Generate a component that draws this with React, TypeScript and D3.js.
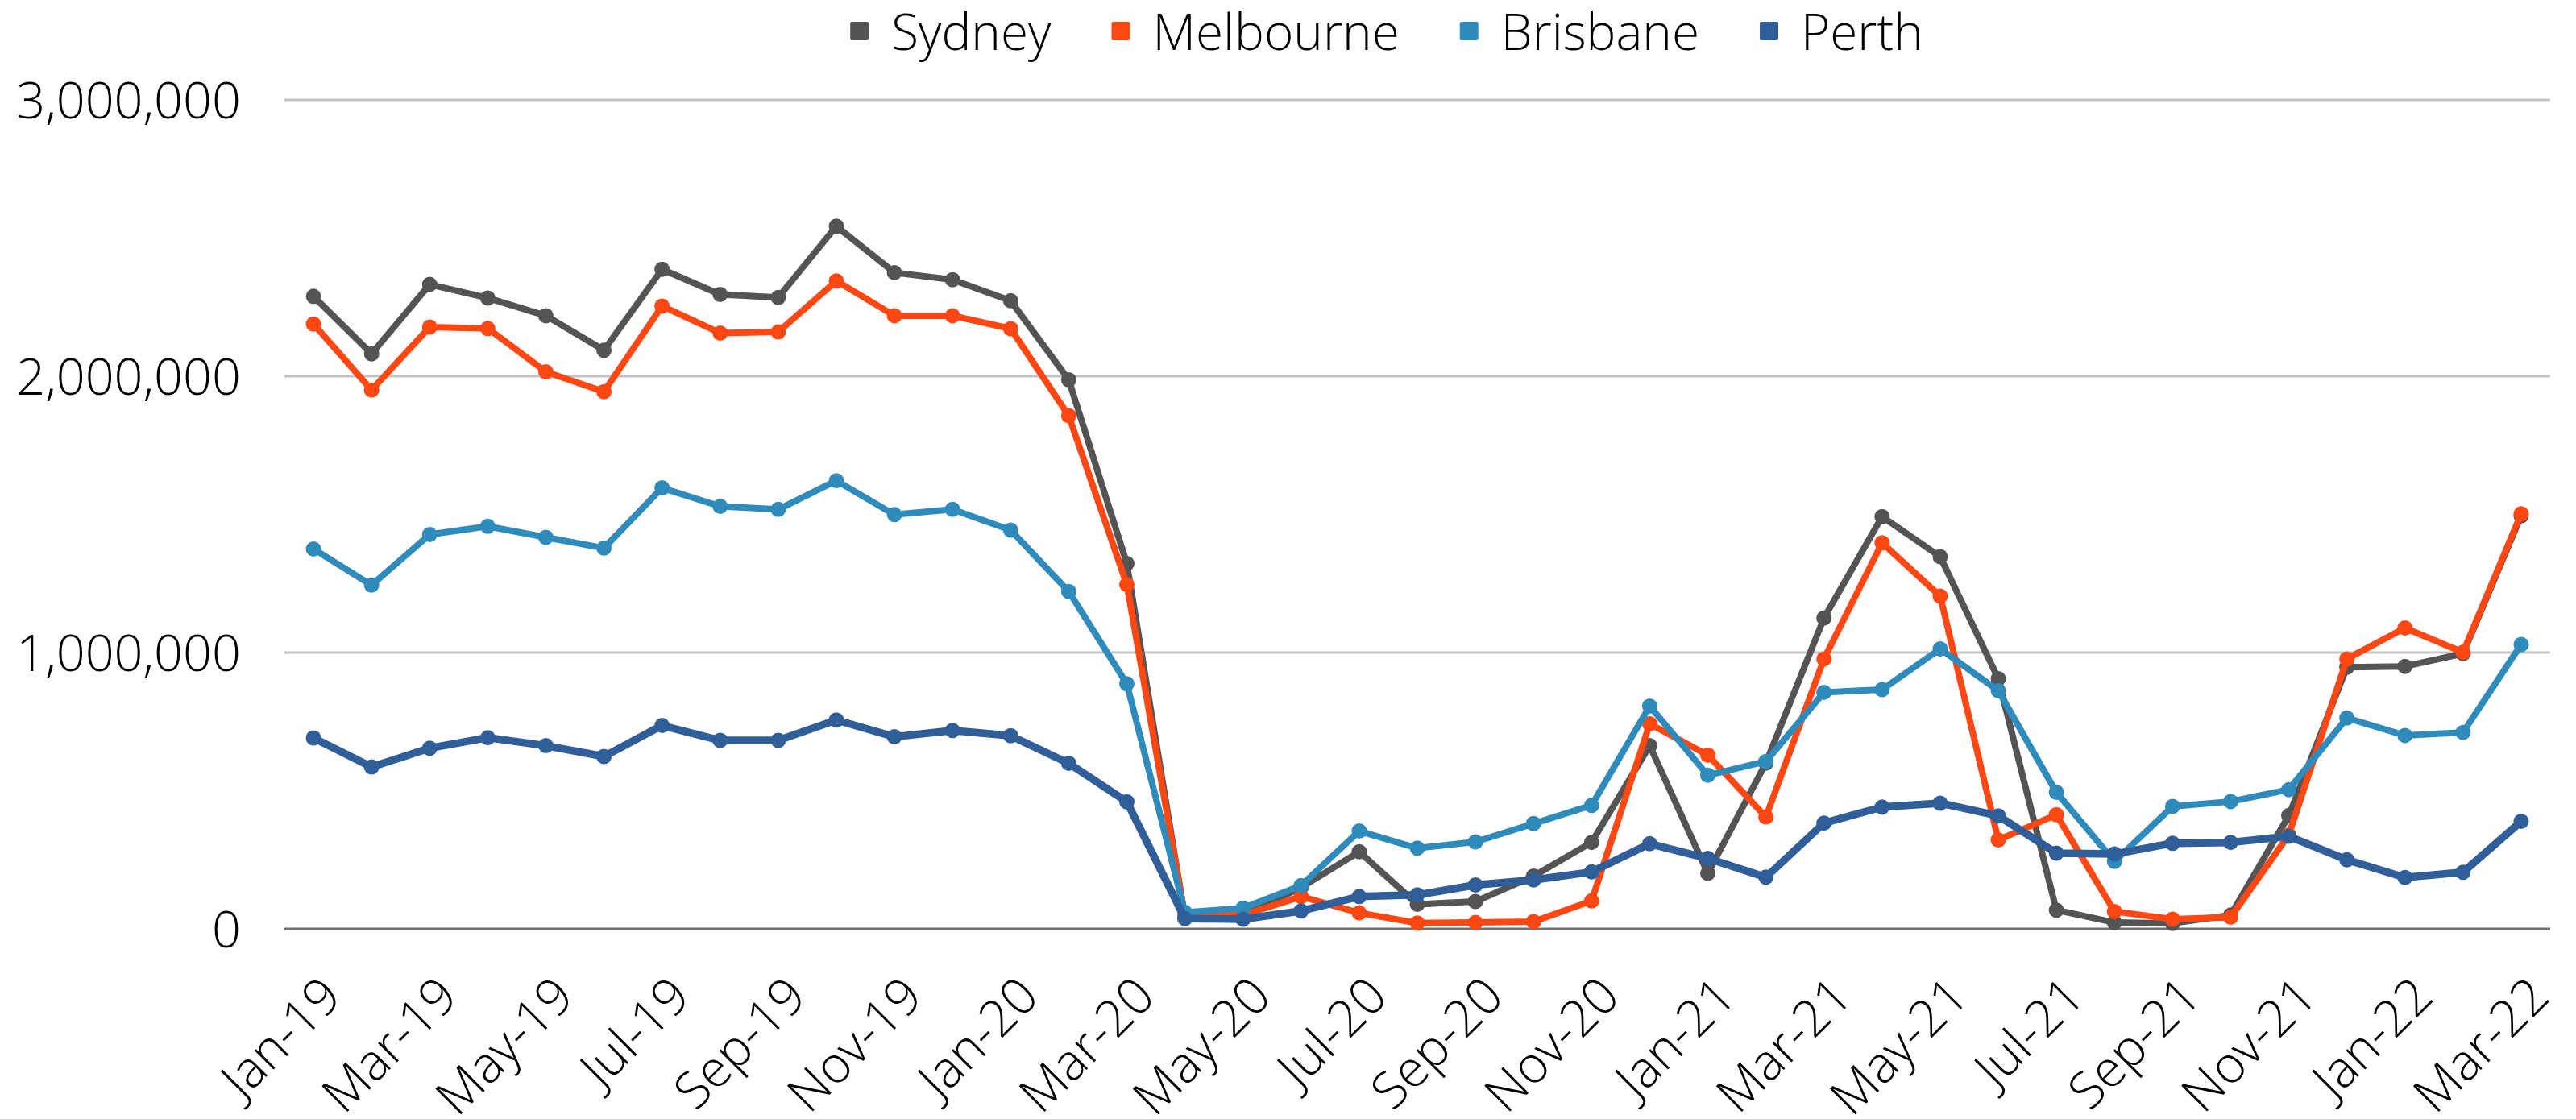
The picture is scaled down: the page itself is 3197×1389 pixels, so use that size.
import * as d3 from 'd3';
import { useEffect, useRef } from 'react';

const months = [
  'Jan-19', 'Feb-19', 'Mar-19', 'Apr-19', 'May-19', 'Jun-19', 'Jul-19', 'Aug-19', 'Sep-19', 'Oct-19', 'Nov-19', 'Dec-19',
  'Jan-20', 'Feb-20', 'Mar-20', 'Apr-20', 'May-20', 'Jun-20', 'Jul-20', 'Aug-20', 'Sep-20', 'Oct-20', 'Nov-20', 'Dec-20',
  'Jan-21', 'Feb-21', 'Mar-21', 'Apr-21', 'May-21', 'Jun-21', 'Jul-21', 'Aug-21', 'Sep-21', 'Oct-21', 'Nov-21', 'Dec-21',
  'Jan-22', 'Feb-22', 'Mar-22',
];

// values in thousands
const sydney = [
  2289, 2081, 2332, 2283, 2219, 2094, 2387, 2296, 2285, 2543, 2375, 2349,
  2273, 1987, 1322, 40, 50, 150, 279, 89, 99, 191, 313, 663,
  201, 600, 1125, 1492, 1347, 905, 68, 23, 20, 50, 410, 947,
  950, 996, 1495,
];
const melbourne = [
  2189, 1950, 2178, 2173, 2016, 1944, 2254, 2156, 2160, 2345, 2219, 2219,
  2172, 1857, 1246, 46, 50, 117, 58, 21, 23, 26, 101, 742,
  629, 405, 977, 1397, 1204, 322, 413, 63, 35, 42, 340, 977,
  1089, 1001, 1502,
];
const brisbane = [
  1375, 1244, 1427, 1457, 1417, 1378, 1596, 1529, 1518, 1622, 1499, 1518,
  1443, 1221, 887, 60, 75, 157, 354, 292, 315, 381, 447, 806,
  556, 606, 856, 866, 1013, 862, 494, 244, 443, 461, 504, 763,
  700, 711, 1029,
];
const perth = [
  691, 586, 654, 692, 663, 624, 736, 682, 682, 756, 695, 718,
  699, 599, 460, 37, 35, 65, 117, 123, 159, 177, 206, 308,
  255, 187, 383, 441, 455, 409, 274, 271, 310, 313, 335, 250,
  186, 205, 389,
];

const seriesNames = ['Sydney', 'Melbourne', 'Brisbane', 'Perth'];
const seriesValues = [sydney, melbourne, brisbane, perth];
const colors = ['#545457', '#ff4713', '#2e8bbb', '#2f5e99'];
const yTicks = [0, 1000000, 2000000, 3000000];

const W = 3197;
const H = 1389;

export default function App() {
  const svgRef = useRef<SVGSVGElement>(null);

  useEffect(() => {
    if (!svgRef.current) return;
    const svg = d3.select(svgRef.current);
    svg.selectAll('*').remove();

    const font = "'Open Sans', sans-serif";
    const left = 353, right = 3165, top = 124, bottom = 1153;

    const x = d3.scaleBand<string>().domain(months).range([left, right]);
    const cx = (m: string) => (x(m) ?? 0) + x.bandwidth() / 2;
    const y = d3.scaleLinear().domain([0, 3000000]).range([bottom, top]);

    // gridlines
    svg.append('g')
      .selectAll('line')
      .data(yTicks.filter(t => t > 0))
      .join('line')
      .attr('x1', left).attr('x2', right)
      .attr('y1', d => y(d)).attr('y2', d => y(d))
      .attr('stroke', '#c3c3c3').attr('stroke-width', 3);

    // baseline
    svg.append('line')
      .attr('x1', left).attr('x2', right)
      .attr('y1', y(0)).attr('y2', y(0))
      .attr('stroke', '#6f6f6f').attr('stroke-width', 3);

    // y labels
    svg.append('g')
      .selectAll('text')
      .data(yTicks)
      .join('text')
      .attr('x', 299)
      .attr('y', d => y(d))
      .attr('dy', '0.36em')
      .attr('text-anchor', 'end')
      .style('font-family', font)
      .style('font-weight', 300)
      .style('font-size', '63px')
      .style('fill', '#000')
      .text(d => d3.format(',')(d));

    // x labels, every second month
    svg.append('g')
      .selectAll('text')
      .data(months.filter((_, i) => i % 2 === 0))
      .join('text')
      .attr('transform', d => `translate(${cx(d) + 38},${1240}) rotate(-45)`)
      .attr('text-anchor', 'end')
      .style('font-family', font)
      .style('font-weight', 300)
      .style('font-size', '63px')
      .style('fill', '#000')
      .text(d => d);

    const line = d3.line<number>()
      .x((_, i) => cx(months[i]))
      .y(d => y(d * 1000));

    seriesValues.forEach((vals, si) => {
      const g = svg.append('g');
      g.append('path')
        .datum(vals)
        .attr('d', line)
        .attr('fill', 'none')
        .attr('stroke', colors[si])
        .attr('stroke-width', si === 3 ? 9.5 : 8)
        .attr('stroke-linejoin', 'round');
      g.selectAll('circle')
        .data(vals)
        .join('circle')
        .attr('cx', (_, i) => cx(months[i]))
        .attr('cy', d => y(d * 1000))
        .attr('r', 9.5)
        .attr('fill', colors[si]);
    });

    // legend
    const legend = svg.append('g');
    let lx = 0;
    seriesNames.forEach((name, i) => {
      const item = legend.append('g').attr('transform', `translate(${lx},0)`);
      item.append('rect')
        .attr('x', 0).attr('y', 27)
        .attr('width', 23).attr('height', 23)
        .attr('rx', 2)
        .attr('fill', colors[i]);
      const t = item.append('text')
        .attr('x', 51).attr('y', 62)
        .style('font-family', font)
        .style('font-weight', 300)
        .style('font-size', '62px')
        .style('fill', '#000')
        .text(name);
      const tw = (t.node() as SVGTextElement).getComputedTextLength();
      lx += 51 + tw + 75;
    });
    const total = lx - 75;
    legend.attr('transform', `translate(${1721 - total / 2},0)`);
  }, []);

  return (
    <svg
      ref={svgRef}
      width={W}
      height={H}
      style={{ position: 'absolute', left: 0, top: 0, background: '#fff', display: 'block' }}
    />
  );
}
